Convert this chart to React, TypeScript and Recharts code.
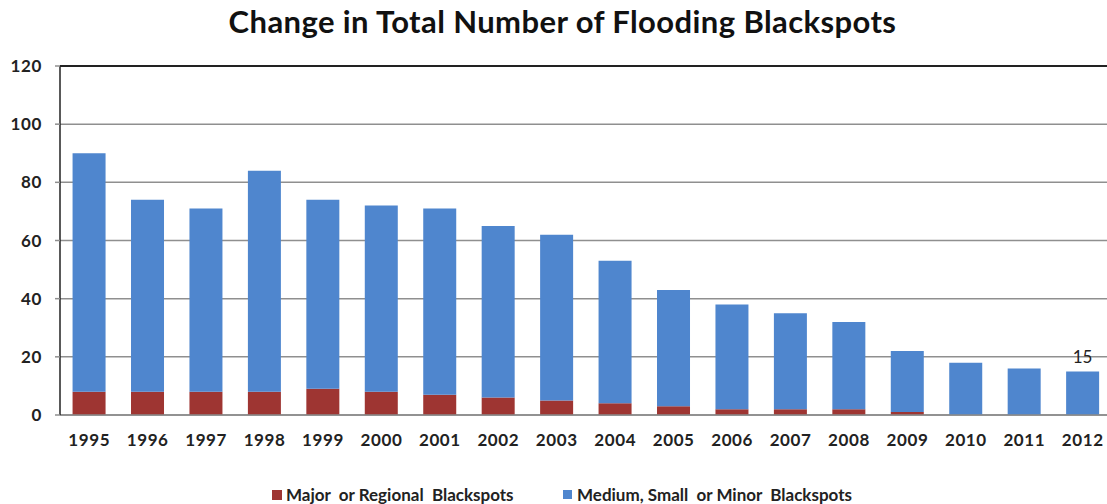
import React from "react";
import { BarChart, Bar, XAxis, YAxis, CartesianGrid, ReferenceLine, LabelList } from "recharts";

const years = ["1995","1996","1997","1998","1999","2000","2001","2002","2003","2004","2005","2006","2007","2008","2009","2010","2011","2012"];
const major = [8, 8, 8, 8, 9, 8, 7, 6, 5, 4, 3, 2, 2, 2, 1, 0, 0, 0];
const medium = [82, 66, 63, 76, 65, 64, 64, 59, 57, 49, 40, 36, 33, 30, 21, 18, 16, 15];
const yTicks = [0, 20, 40, 60, 80, 100, 120];
const labelledYear = "2012";

const RED = "#9E3532";
const BLUE = "#4F86CE";
const FONT = "Lato, 'Open Sans', sans-serif";

const data = years.map((y, i) => ({ year: y, major: major[i], medium: medium[i], total: major[i] + medium[i] }));

const TotalLabel = (props: any) => {
  const { x, y, width, index } = props;
  const d = data[index];
  if (!d || d.year !== labelledYear) return null;
  return (
    <text x={x + width / 2} y={y - 8} textAnchor="middle" fontFamily={FONT} fontSize={17} fill="#222">
      {d.total}
    </text>
  );
};

const tickStyle = { fontFamily: FONT, fontWeight: 700, fontSize: 17, fill: "#222", letterSpacing: 0.6 };

export default function App() {
  return (
    <div style={{ position: "absolute", left: 0, top: 0, width: 1107, height: 504, overflow: "hidden", background: "#fff" }}>
      <div style={{ position: "absolute", left: 0, top: 2, width: 1125, textAlign: "center", fontFamily: FONT, fontWeight: 700, fontSize: 31, letterSpacing: 0.4, color: "#111", whiteSpace: "nowrap" }}>
        Change in Total Number of Flooding Blackspots
      </div>
      <div style={{ position: "absolute", left: 0, top: 0 }}>
        <BarChart width={1120} height={504} data={data} margin={{ top: 66, right: 8, left: 10, bottom: 59 }} barCategoryGap="21.5%">
          <CartesianGrid horizontal vertical={false} stroke="#8f8f8f" strokeWidth={1.5} />
          <XAxis
            dataKey="year"
            height={30}
            tickLine={false}
            tickSize={6}
            tickMargin={13}
            axisLine={{ stroke: "#8a8a8a", strokeWidth: 1.5 }}
            tick={tickStyle}
            interval={0}
          />
          <YAxis
            width={50}
            domain={[0, 120]}
            ticks={yTicks}
            interval={0}
            tickSize={5}
            tickMargin={13}
            tickLine={{ stroke: "#8f8f8f", strokeWidth: 1.5 }}
            axisLine={{ stroke: "#222", strokeWidth: 1.5 }}
            tick={tickStyle}
          />
          <ReferenceLine y={120} stroke="#222" strokeWidth={2} />
          <Bar dataKey="major" stackId="a" fill={RED} isAnimationActive={false} />
          <Bar dataKey="medium" stackId="a" fill={BLUE} isAnimationActive={false}>
            <LabelList dataKey="total" content={TotalLabel} />
          </Bar>
        </BarChart>
      </div>
      <div style={{ position: "absolute", left: 272, top: 484, fontFamily: FONT, fontWeight: 700, fontSize: 17, color: "#222", display: "flex", alignItems: "center", whiteSpace: "pre" }}>
        <span style={{ display: "inline-block", width: 10, height: 10, background: RED, marginRight: 4 }} />
        <span>{"Major  or Regional  Blackspots"}</span>
      </div>
      <div style={{ position: "absolute", left: 563, top: 484, fontFamily: FONT, fontWeight: 700, fontSize: 17, color: "#222", display: "flex", alignItems: "center", whiteSpace: "pre" }}>
        <span style={{ display: "inline-block", width: 9, height: 9, background: BLUE, marginRight: 5 }} />
        <span>{"Medium, Small  or Minor  Blackspots"}</span>
      </div>
    </div>
  );
}
